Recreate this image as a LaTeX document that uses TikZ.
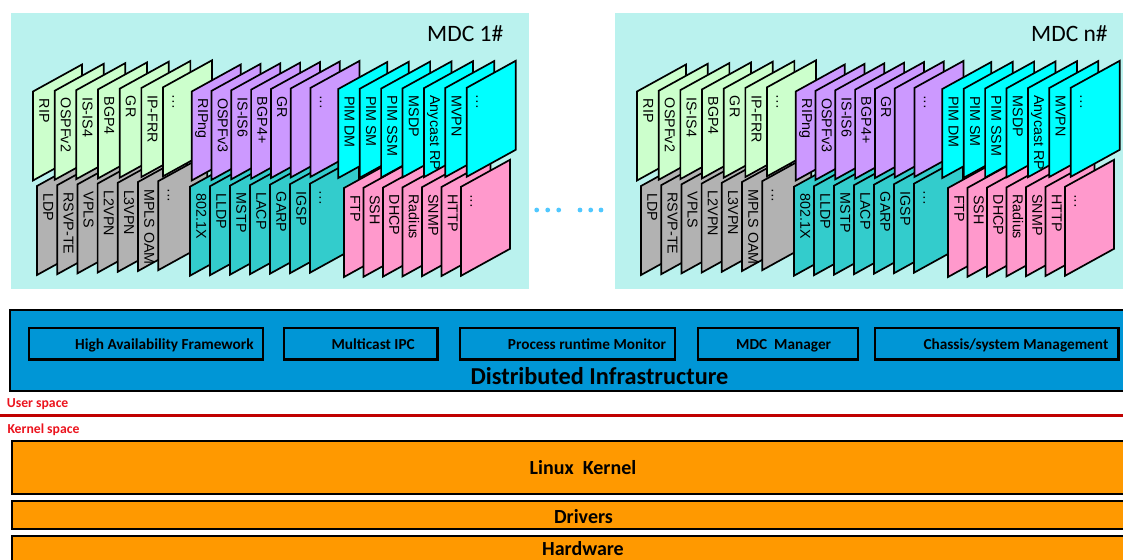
\documentclass[tikz,border=0pt]{standalone}
\usepackage{fontspec}
\setmainfont{Liberation Sans}
\newfontfamily\carlito{Carlito}
\definecolor{mdcbg}{RGB}{186,242,238}
\definecolor{cGreen}{RGB}{204,255,204}
\definecolor{cPurple}{RGB}{204,153,255}
\definecolor{cCyan}{RGB}{0,255,255}
\definecolor{cGray}{RGB}{178,178,178}
\definecolor{cTeal}{RGB}{51,204,204}
\definecolor{cPink}{RGB}{255,153,204}
\definecolor{infraBlue}{RGB}{0,150,214}
\definecolor{kernOrange}{RGB}{255,153,0}
\definecolor{sepRed}{RGB}{192,0,0}
\definecolor{labelRed}{RGB}{235,20,30}
\definecolor{dotBlue}{RGB}{80,200,255}

% one stack of slanted protocol cards: prefix, x0, y0, dx, dy, fill, labels
\newcommand\cardgroup[7]{%
  \foreach \lab [count=\i from 0] in {#7} {
    \pgfmathsetmacro\cx{#2+\i*#4}
    \pgfmathsetmacro\cy{#3+\i*#5}
    \draw[card, fill=#6] (\cx,\cy) -- ++(0,89) -- ++(49,-27) -- ++(0,-89) -- cycle;
    \begin{scope}
      \clip (\cx,\cy) -- ++(0,89) -- ++(49,-27) -- ++(0,-89) -- cycle;
      \node[cardtext] (#1-\i) at (\cx+6.3,\cy+7) {\lab};
    \end{scope}
  }%
}

% one MDC panel: name prefix, title
\newcommand\mdcblock[2]{%
  \fill[mdcbg] (11,13) rectangle (529,289);
  \node[mdctitle] (#1-title) at (427,41.5) {#2};
  \cardgroup{#1-gy}{37}{186}{20.2}{-0.8}{cGray}{LDP,RSVP-TE,VPLS,L2VPN,L3VPN,MPLS OAM,···}
  \cardgroup{#1-tl}{190}{186.7}{20}{-0.5}{cTeal}{802.1X,LLDP,MSTP,LACP,GARP,IGSP,···}
  \cardgroup{#1-pk}{344}{188}{19.5}{-0.2}{cPink}{FTP,SSH,DHCP,Radius,SNMP,HTTP,···}
  \cardgroup{#1-gn}{33}{91.5}{21.67}{-0.7}{cGreen}{RIP,OSPFv2,IS-IS4,BGP4,GR,IP-FRR,···}
  \cardgroup{#1-pu}{191.7}{91.5}{19.8}{-0.6}{cPurple}{RIPng,OSPFv3,IS-IS6,BGP4+,GR,{},···}
  \cardgroup{#1-cy}{338.3}{89}{21.4}{-0.2}{cCyan}{PIM DM,PIM SM,PIM SSM,MSDP,Anycast RP,MVPN,···}
}

\begin{document}
\begin{tikzpicture}[x=1pt,y=-1pt,
  card/.style={draw=black, line width=1.7pt, line join=miter},
  cardtext/.style={rotate=-90, anchor=base west, inner sep=0pt,
    font=\fontsize{14.3}{16}\selectfont},
  mdctitle/.style={anchor=base west, inner sep=0pt,
    font=\carlito\fontsize{23.5}{26}\selectfont},
  layerbox/.style={draw=black, line width=2.2pt},
  svcbox/.style={draw=black, line width=2.2pt, fill=infraBlue},
  svctext/.style={anchor=base west, inner sep=0pt,
    font=\carlito\bfseries\fontsize{15.3}{17}\selectfont},
  bigtext/.style={anchor=base, inner sep=0pt,
    font=\carlito\bfseries\fontsize{24.3}{27}\selectfont},
  kerntext/.style={anchor=base, inner sep=0pt,
    font=\carlito\bfseries\fontsize{20}{22}\selectfont},
  spacetext/.style={anchor=west, inner sep=0pt, text=labelRed,
    font=\carlito\bfseries\fontsize{13.7}{15}\selectfont},
  moredot/.style={fill=dotBlue}
]
\useasboundingbox (0,0) rectangle (1123,559);
\clip (0,0) rectangle (1123,559);

% the two MDC panels
\begin{scope}
  \mdcblock{m1}{MDC 1\#}
\end{scope}
\begin{scope}[xshift=604pt]
  \mdcblock{mn}{MDC n\#}
\end{scope}

% ellipsis between the panels
\foreach \dx in {536.7,547.7,558.7,580,590.7,601}
  \fill[moredot] (\dx,210) circle (2.4pt);

% distributed infrastructure layer
\draw[layerbox, fill=infraBlue] (10,310) rectangle (1130,390.7);
\draw[svcbox] (29,328.3) rectangle (263.2,359.5);
\draw[svcbox] (284,328.3) rectangle (437.5,359.5);
\draw[svcbox] (459.6,328.3) rectangle (675,359.5);
\draw[svcbox] (698.2,328.3) rectangle (858,359.5);
\draw[svcbox] (875.3,328.3) rectangle (1118.4,359.5);
\node[svctext] (ha)   at (75,349)    {High Availability Framework};
\node[svctext] (ipc)  at (331.4,349) {Multicast IPC};
\node[svctext] (prm)  at (507.7,349) {Process runtime Monitor};
\node[svctext] (mgr)  at (736,349)   {MDC\ \ Manager};
\node[svctext] (chs)  at (923.3,349) {Chassis/system Management};
\node[bigtext] (infra) at (599.5,384) {Distributed Infrastructure};

% user / kernel boundary
\node[spacetext] (user) at (6.7,404) {User space};
\draw[sepRed, line width=3.6pt] (0,415.3) -- (1123,415.3);
\node[spacetext] (kern) at (7.3,429.3) {Kernel space};

% kernel side layers
\draw[layerbox, fill=kernOrange] (11.7,440.7) rectangle (1130,494);
\draw[layerbox, fill=kernOrange] (11.7,501) rectangle (1130,529);
\draw[layerbox, fill=kernOrange] (11.7,535.7) rectangle (1130,575);
\node[kerntext] (linux) at (583,474.5) {Linux\ \ Kernel};
\node[kerntext] (drv)   at (583.5,523.5) {Drivers};
\node[kerntext] (hw)    at (583,555) {Hardware};
\end{tikzpicture}
\end{document}
